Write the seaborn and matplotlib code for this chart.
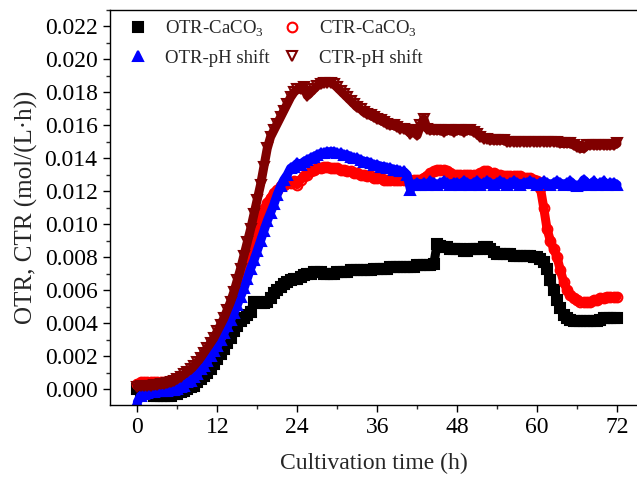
import numpy as np
import pandas as pd
import matplotlib
matplotlib.use("Agg")
import matplotlib.pyplot as plt
from matplotlib.lines import Line2D
from matplotlib.ticker import MultipleLocator, FormatStrFormatter
import seaborn as sns

# sampling grid of the fermentation logs (h)
hours = np.arange(0, 72.5, 0.5)

otr_caco3 = [
    0.0000, -0.0002, -0.0003, -0.0003, -0.0003, -0.0004, -0.0004, -0.0004, -0.0004, -0.0004,
    -0.0004, -0.0003, -0.0003, -0.0002, -0.0001, 0.0000, 0.0001, 0.0002, 0.0004, 0.0006,
    0.0008, 0.0010, 0.0012, 0.0015, 0.0018, 0.0021, 0.0024, 0.0028, 0.0031, 0.0035,
    0.0038, 0.0041, 0.0043, 0.0045, 0.0047, 0.0053, 0.0053, 0.0052, 0.0052, 0.0053,
    0.0055, 0.0058, 0.0060, 0.0062, 0.0064, 0.0065, 0.0066, 0.0067, 0.0067, 0.0068,
    0.0069, 0.0070, 0.0070, 0.0071, 0.0071, 0.0071, 0.0070, 0.0070, 0.0070, 0.0070,
    0.0071, 0.0071, 0.0071, 0.0071, 0.0072, 0.0072, 0.0072, 0.0072, 0.0072, 0.0072,
    0.0072, 0.0073, 0.0073, 0.0073, 0.0073, 0.0073, 0.0074, 0.0074, 0.0074, 0.0074,
    0.0074, 0.0074, 0.0074, 0.0074, 0.0075, 0.0075, 0.0075, 0.0075, 0.0075, 0.0076,
    0.0088, 0.0087, 0.0086, 0.0086, 0.0085, 0.0085, 0.0085, 0.0085, 0.0084, 0.0084,
    0.0085, 0.0085, 0.0085, 0.0085, 0.0086, 0.0086, 0.0085, 0.0083, 0.0082, 0.0082,
    0.0082, 0.0082, 0.0082, 0.0081, 0.0081, 0.0081, 0.0081, 0.0081, 0.0081, 0.0080,
    0.0080, 0.0079, 0.0077, 0.0073, 0.0066, 0.0060, 0.0054, 0.0049, 0.0045, 0.0043,
    0.0042, 0.0041, 0.0041, 0.0041, 0.0041, 0.0041, 0.0041, 0.0041, 0.0041, 0.0042,
    0.0043, 0.0043, 0.0043, 0.0043, 0.0043,
]

ctr_caco3 = [
    0.0003, 0.0004, 0.0004, 0.0004, 0.0004, 0.0004, 0.0004, 0.0004, 0.0004, 0.00045,
    0.0005, 0.00055, 0.0006, 0.0007, 0.0008, 0.00095, 0.0011, 0.0013, 0.0015, 0.0017,
    0.0019, 0.0021, 0.0024, 0.0027, 0.0030, 0.0033, 0.0037, 0.0041, 0.0046, 0.0051,
    0.0056, 0.0062, 0.0068, 0.0075, 0.0082, 0.0090, 0.0098, 0.0104, 0.0109, 0.0113,
    0.0116, 0.0119, 0.0121, 0.0123, 0.0124, 0.0125, 0.0125, 0.0126, 0.0124, 0.0127,
    0.0129, 0.0130, 0.0132, 0.0133, 0.0134, 0.0134, 0.0135, 0.0135, 0.0134, 0.0134,
    0.0134, 0.0133, 0.0133, 0.0132, 0.0132, 0.0131, 0.0131, 0.0130, 0.0130, 0.0129,
    0.0129, 0.0128, 0.0128, 0.0128, 0.0127, 0.0127, 0.0127, 0.0127, 0.0127, 0.0127,
    0.0127, 0.0127, 0.0127, 0.0127, 0.0127, 0.0127, 0.0128, 0.0129, 0.0131, 0.0132,
    0.0133, 0.0133, 0.0133, 0.0132, 0.0131, 0.0130, 0.0130, 0.0130, 0.0130, 0.0130,
    0.0130, 0.0130, 0.0130, 0.0131, 0.0132, 0.0132, 0.0131, 0.0131, 0.0130, 0.0130,
    0.0129, 0.0129, 0.0129, 0.0129, 0.0129, 0.0129, 0.0128, 0.0128, 0.0128, 0.0127,
    0.0126, 0.0122, 0.0110, 0.0097, 0.0090, 0.0085, 0.0080, 0.0072, 0.0065, 0.0060,
    0.0057, 0.0055, 0.0054, 0.0053, 0.0053, 0.0053, 0.0053, 0.0054, 0.0054, 0.0055,
    0.0055, 0.0056, 0.0056, 0.0056, 0.0056,
]

otr_ph = [
    -0.0008, -0.0004, -0.0003, -0.00025, -0.0002, -0.0002, -0.00015, -0.00012, -0.0001, -0.0001,
    -0.00008, -0.00005, 0.0000, 0.0001, 0.0002, 0.0004, 0.0005, 0.0007, 0.0009, 0.0012,
    0.0014, 0.0017, 0.0020, 0.0023, 0.0026, 0.0030, 0.0034, 0.0038, 0.0042, 0.0046,
    0.0051, 0.0056, 0.0061, 0.0067, 0.0073, 0.0078, 0.0084, 0.0090, 0.0096, 0.0102,
    0.0107, 0.0112, 0.0118, 0.0123, 0.0127, 0.0130, 0.0134, 0.0135, 0.0137, 0.0136,
    0.0138, 0.0139, 0.0140, 0.0141, 0.0142, 0.0143, 0.0143, 0.0144, 0.0144, 0.0144,
    0.0143, 0.0143, 0.0142, 0.0142, 0.0141, 0.0140, 0.0140, 0.0139, 0.0138, 0.0138,
    0.0137, 0.0136, 0.0136, 0.0135, 0.0135, 0.0134, 0.0134, 0.0133, 0.0133, 0.0132,
    0.0132, 0.0130, 0.0121, 0.0124, 0.0125, 0.0124, 0.0125, 0.0124, 0.0126, 0.0125,
    0.0124, 0.0125, 0.0126, 0.0125, 0.0124, 0.0125, 0.0125, 0.0124, 0.0126, 0.0125,
    0.0124, 0.0125, 0.0126, 0.0124, 0.0125, 0.0126, 0.0125, 0.0124, 0.0125, 0.0126,
    0.0125, 0.0124, 0.0125, 0.0126, 0.0125, 0.0124, 0.0125, 0.0125, 0.0126, 0.0125,
    0.0124, 0.0125, 0.0126, 0.0125, 0.0124, 0.0125, 0.0126, 0.0125, 0.0124, 0.0125,
    0.0126, 0.0124, 0.0123, 0.0124, 0.0127, 0.0125, 0.0124, 0.0126, 0.0124, 0.0125,
    0.0126, 0.0124, 0.0125, 0.0125, 0.0124,
]

ctr_ph = [
    0.00015, 0.00018, 0.0002, 0.0002, 0.0002, 0.00022, 0.00025, 0.00028, 0.0003, 0.00035,
    0.0004, 0.0005, 0.00062, 0.00075, 0.0009, 0.00105, 0.0012, 0.0014, 0.00165, 0.0019,
    0.0022, 0.0025, 0.0028, 0.0031, 0.0035, 0.0039, 0.0043, 0.0048, 0.0053, 0.0059,
    0.0066, 0.0073, 0.0081, 0.0089, 0.0097, 0.0106, 0.0115, 0.0124, 0.0135, 0.0146,
    0.0153, 0.0157, 0.0161, 0.0165, 0.0169, 0.0173, 0.0177, 0.0180, 0.0182, 0.0182,
    0.0183, 0.0178, 0.0180, 0.0182, 0.0184, 0.0185, 0.0186, 0.0186, 0.0186, 0.0185,
    0.0183, 0.0181, 0.0179, 0.0177, 0.0175, 0.0173, 0.0171, 0.0170, 0.0168, 0.0167,
    0.0166, 0.0165, 0.0164, 0.0163, 0.0162, 0.0161, 0.0160, 0.0160, 0.0159, 0.0158,
    0.0158, 0.0157, 0.0155, 0.0157, 0.0154, 0.0160, 0.0164, 0.0158, 0.0157, 0.0157,
    0.0157, 0.0157, 0.0156, 0.0157, 0.0157, 0.0156, 0.0157, 0.0157, 0.0156, 0.0157,
    0.0157, 0.0156, 0.0155, 0.0153, 0.0152, 0.0152, 0.0151, 0.0151, 0.0151, 0.0151,
    0.0151, 0.0150, 0.0150, 0.0150, 0.0150, 0.0150, 0.0150, 0.0150, 0.0150, 0.0150,
    0.0150, 0.0150, 0.0150, 0.0150, 0.0150, 0.0150, 0.0150, 0.0149, 0.0149, 0.0149,
    0.0149, 0.0148, 0.0147, 0.0146, 0.0146, 0.0148, 0.0148, 0.0148, 0.0148, 0.0148,
    0.0148, 0.0148, 0.0148, 0.0148, 0.0149,
]

labels = ["OTR-CaCO$_\\mathregular{3}$", "CTR-CaCO$_\\mathregular{3}$", "OTR-pH shift", "CTR-pH shift"]
colors = ["#000000", "#ff0000", "#0000ff", "#800000"]
markers = ["s", "o", "^", "v"]
filled = [True, False, True, False]

df = pd.DataFrame({"time": hours, labels[0]: otr_caco3, labels[1]: ctr_caco3,
                   labels[2]: otr_ph, labels[3]: ctr_ph})

sns.set_style("ticks")
plt.rcParams["font.family"] = ["Liberation Serif", "DejaVu Serif"]
plt.rcParams["mathtext.fontset"] = "custom"
plt.rcParams["mathtext.rm"] = "Liberation Serif"

fig = plt.figure(figsize=(6.37, 4.79), dpi=100)
ax = fig.add_axes([0.1727, 0.1545, 0.8273, 0.8246])

for lab, c, m, f in zip(labels, colors, markers, filled):
    sns.lineplot(data=df, x="time", y=lab, ax=ax, color=c, lw=6.5,
                 marker=m, ms=7, mec=c, mew=1.5, mfc=c if f else "none",
                 solid_joinstyle="round", solid_capstyle="round")

ax.set_xlim(-4.1, 75)
ax.set_ylim(-0.00097, 0.0230)
ax.xaxis.set_major_locator(MultipleLocator(12))
ax.xaxis.set_minor_locator(MultipleLocator(6))
ax.yaxis.set_major_locator(MultipleLocator(0.002))
ax.yaxis.set_minor_locator(MultipleLocator(0.001))
ax.yaxis.set_major_formatter(FormatStrFormatter("%.3f"))
ax.tick_params(which="major", direction="out", length=5, width=1, labelsize=17, pad=4)
ax.tick_params(which="minor", direction="out", length=3, width=1)
for s in ["left", "bottom", "top"]:
    ax.spines[s].set_linewidth(1)
    ax.spines[s].set_color("black")
ax.spines["right"].set_visible(False)
ax.tick_params(colors="black")

ax.set_xlabel("Cultivation time (h)", fontsize=17, labelpad=10)
ax.set_ylabel("OTR, CTR (mol/(L\u00b7h))", fontsize=18, labelpad=5)

# legend fills column-wise: CaCO3 pair on the first row, pH-shift pair on the second
order = [0, 2, 1, 3]
handles = [Line2D([], [], ls="none", marker=markers[i], ms=7, color=colors[i],
                  mec=colors[i], mew=1.5, mfc=colors[i] if filled[i] else "white")
           for i in order]
ax.legend(handles, [labels[i] for i in order], ncol=2, frameon=False, fontsize=13.5,
          loc="upper left", bbox_to_anchor=(-0.005, 1.02), handletextpad=0.7,
          columnspacing=0.4, labelspacing=0.5, handlelength=1.5)

fig.savefig("out.png", dpi=100)
